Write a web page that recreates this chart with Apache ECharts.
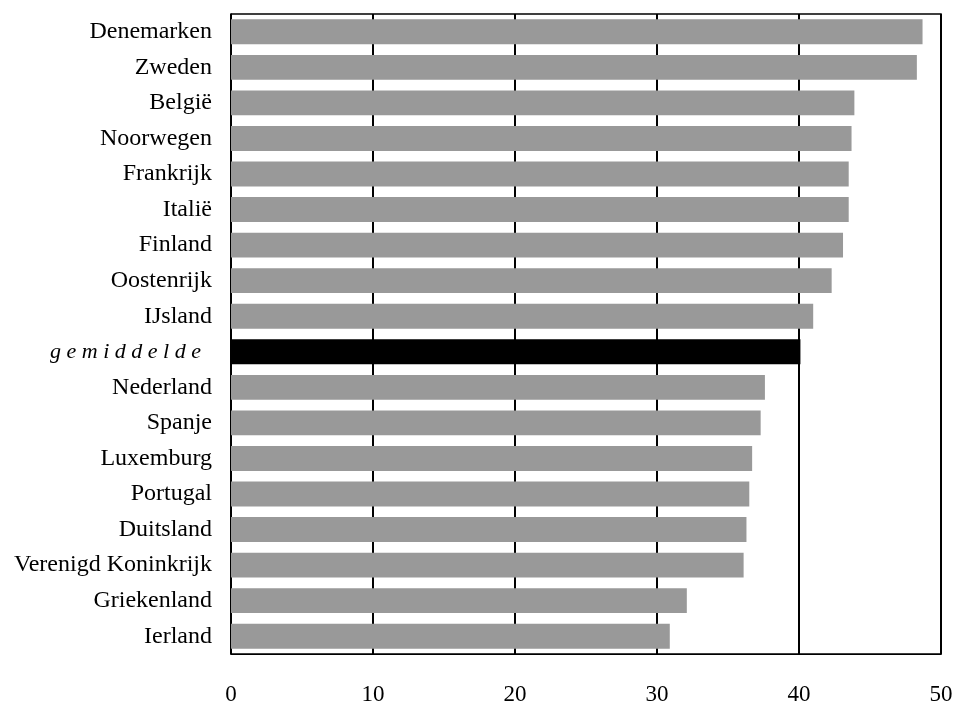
<!DOCTYPE html>
<html>
<head>
<meta charset="utf-8">
<script src="https://cdn.jsdelivr.net/npm/echarts@6/dist/echarts.min.js"></script>
<style>
  html, body { margin: 0; padding: 0; background: #ffffff; }
  #chart { width: 957px; height: 704px; }
</style>
</head>
<body>
<div id="chart"></div>
<script>
// Landen, van boven naar beneden
const countries = [
  'Denemarken', 'Zweden', 'België', 'Noorwegen', 'Frankrijk', 'Italië',
  'Finland', 'Oostenrijk', 'IJsland', 'gemiddelde', 'Nederland', 'Spanje',
  'Luxemburg', 'Portugal', 'Duitsland', 'Verenigd Koninkrijk', 'Griekenland', 'Ierland'
];
const values = [
  48.7, 48.3, 43.9, 43.7, 43.5, 43.5,
  43.1, 42.3, 41.0, 40.1, 37.6, 37.3,
  36.7, 36.5, 36.3, 36.1, 32.1, 30.9
];
const averageLabel = 'gemiddelde';
const xTicks = [0, 10, 20, 30, 40, 50];

const FONT = '"Liberation Serif", "Times New Roman", serif';

// Canvas text has no letter-spacing, so the average label is spread out by hand
function spaced(text, gap) {
  return Array.from(text).join(gap);
}

const chart = echarts.init(document.getElementById('chart'), null, { renderer: 'canvas' });

chart.setOption({
  animation: false,
  backgroundColor: '#ffffff',
  grid: {
    left: 231, right: 16, top: 14, bottom: 50,
    show: true, borderColor: '#000000', borderWidth: 1.5,
    containLabel: false,
    outerBoundsMode: 'none'
  },
  xAxis: {
    type: 'value',
    min: xTicks[0],
    max: xTicks[xTicks.length - 1],
    interval: xTicks[1] - xTicks[0],
    axisLine: { show: true, onZero: false, lineStyle: { color: '#000000', width: 1 } },
    axisTick: { show: false },
    splitLine: { show: true, lineStyle: { color: '#000000', width: 2 } },
    axisLabel: {
      color: '#000000', fontFamily: FONT, fontSize: 23, margin: 29
    }
  },
  yAxis: {
    type: 'category',
    inverse: true,
    data: countries,
    axisLine: { show: true, lineStyle: { color: '#000000', width: 1 } },
    axisTick: { show: false },
    splitLine: { show: false },
    axisLabel: {
      color: '#000000', fontFamily: FONT, fontSize: 24, margin: 19,
      formatter: function (v) {
        if (v === averageLabel) {
          return '{avg|' + spaced(v, ' ') + '\u00A0\u00A0}';
        }
        return v;
      },
      rich: {
        avg: { fontFamily: FONT, fontSize: 22, fontStyle: 'italic', color: '#000000' }
      }
    }
  },
  series: [{
    type: 'bar',
    barCategoryGap: '30%',
    data: values.map(function (v, i) {
      return {
        value: v,
        itemStyle: { color: countries[i] === averageLabel ? '#000000' : '#999999' }
      };
    }),
    z: 3
  }]
});
</script>
</body>
</html>
